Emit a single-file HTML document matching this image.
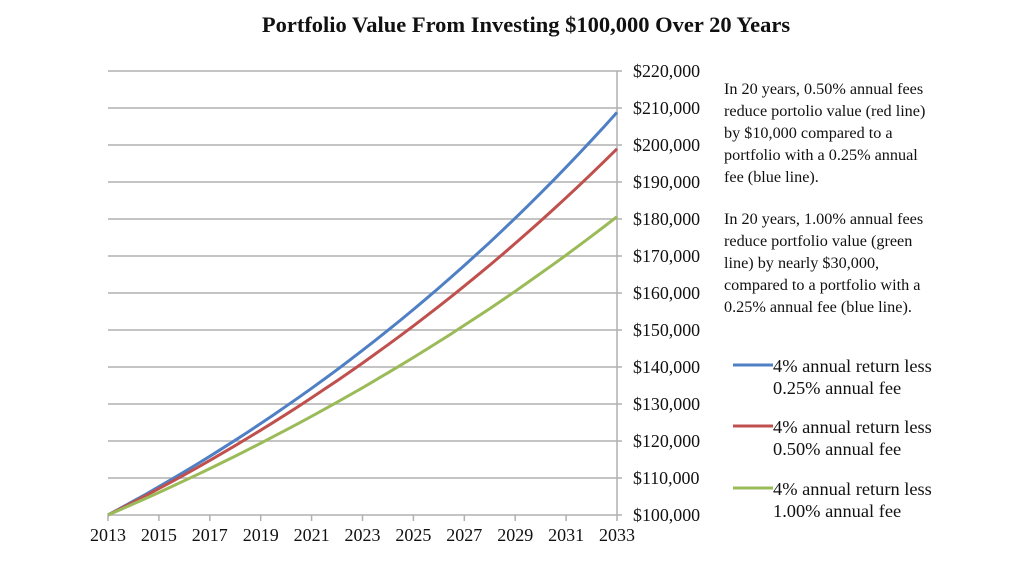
<!DOCTYPE html>
<html><head><meta charset="utf-8"><style>
body{margin:0;background:#fff;width:1024px;height:566px;overflow:hidden;font-family:"Liberation Serif",serif;}
svg{position:absolute;left:0;top:0}
</style></head><body>
<svg id="s" width="1024" height="566" xmlns="http://www.w3.org/2000/svg" font-family="Liberation Serif, serif">
<text x="526" y="32" text-anchor="middle" font-size="22.5" font-weight="bold" fill="#111">Portfolio Value From Investing $100,000 Over 20 Years</text>
<g id="grid" stroke="#b0b0b0" stroke-width="1.5"></g>
<g id="ylab" font-size="17.9" fill="#111"></g>
<g id="xlab" font-size="18" fill="#111" text-anchor="middle"></g>
<g id="lines" fill="none" stroke-width="3"></g>
<g font-size="16.2" fill="#111">
<text x="724" y="94">In 20 years,  0.50% annual fees</text>
<text x="724" y="116">reduce portolio value (red line)</text>
<text x="724" y="138">by $10,000 compared to a</text>
<text x="724" y="160">portfolio with a 0.25% annual</text>
<text x="724" y="182">fee (blue line).</text>
<text x="724" y="224">In 20 years, 1.00% annual fees</text>
<text x="724" y="246">reduce portfolio value (green</text>
<text x="724" y="268">line) by nearly $30,000,</text>
<text x="724" y="290">compared to a portfolio with a</text>
<text x="724" y="312">0.25% annual fee (blue line).</text>
</g>
<g font-size="18.4" fill="#111">
<line x1="733" y1="365" x2="773" y2="365" stroke="#4f7fc4" stroke-width="3"/>
<text x="773" y="372">4% annual return less</text>
<text x="773" y="394">0.25% annual fee</text>
<line x1="733" y1="426" x2="773" y2="426" stroke="#c0504d" stroke-width="3"/>
<text x="773" y="433">4% annual return less</text>
<text x="773" y="455">0.50% annual fee</text>
<line x1="733" y1="488" x2="773" y2="488" stroke="#9bbb59" stroke-width="3"/>
<text x="773" y="495">4% annual return less</text>
<text x="773" y="517">1.00% annual fee</text>
</g>
</svg>
<script>
var ns="http://www.w3.org/2000/svg";
function el(p,t,a,txt){var e=document.createElementNS(ns,t);for(var k in a)e.setAttribute(k,a[k]);if(txt)e.textContent=txt;document.getElementById(p).appendChild(e);}
var x0=108,x1=617,y0=515,dy=37;
for(var i=0;i<=12;i++){var y=y0-i*dy;
 el("grid","line",{x1:x0,x2:x1+5,y1:y,y2:y});
 el("ylab","text",{x:633,y:y+6},"$"+(100+i*10)+",000");}
el("grid","line",{x1:x1,x2:x1,y1:y0-12*dy,y2:y0});
for(var j=0;j<=10;j++){var x=x0+(x1-x0)*j/10;
 el("grid","line",{x1:x,x2:x,y1:y0,y2:y0+6});
 el("xlab","text",{x:x,y:y0+26},String(2013+2*j));}
[[0.0375,"#4f7fc4"],[0.035,"#c0504d"],[0.03,"#9bbb59"]].forEach(function(s){
 var pts=[];for(var t=0;t<=20;t+=0.5){var v=100*Math.pow(1+s[0],t);pts.push((x0+(x1-x0)*t/20).toFixed(1)+","+(y0-(v-100)*3.7).toFixed(1));}
 el("lines","polyline",{points:pts.join(" "),stroke:s[1]});});
</script>
</body></html>
